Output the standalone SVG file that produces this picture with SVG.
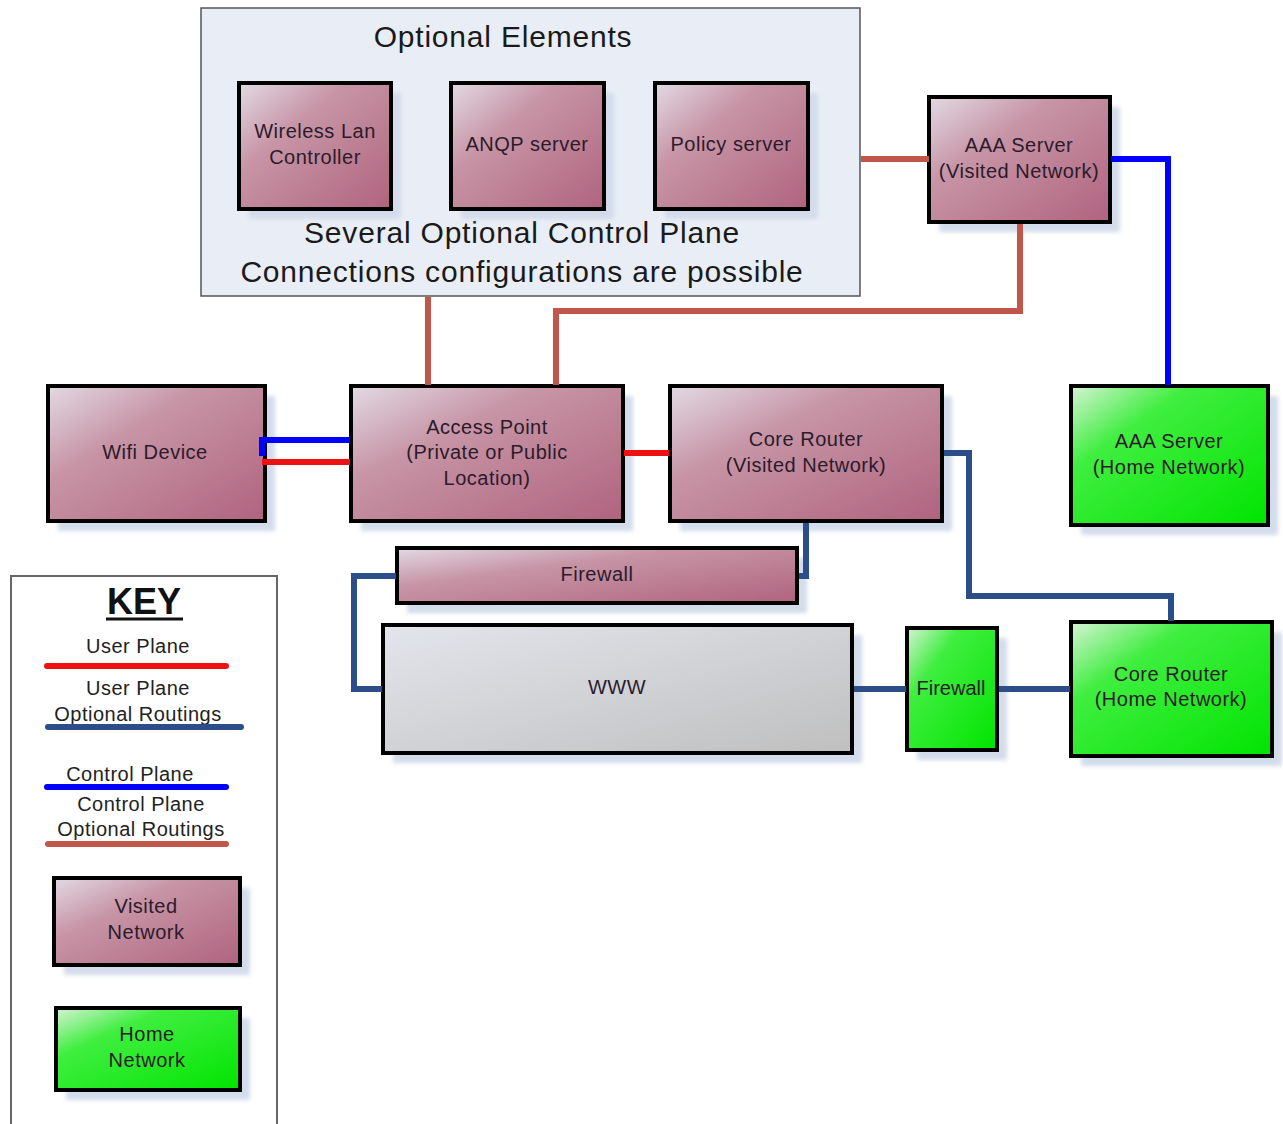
<svg xmlns="http://www.w3.org/2000/svg" width="1283" height="1124" viewBox="0 0 1283 1124">
<defs>
<linearGradient id="gV" x1="0" y1="0" x2="1" y2="1">
<stop offset="0" stop-color="#e2dae4"/><stop offset="0.35" stop-color="#c795a6"/><stop offset="1" stop-color="#b0637e"/>
</linearGradient>
<linearGradient id="gH" x1="0" y1="0" x2="1" y2="1">
<stop offset="0" stop-color="#d6f3d6"/><stop offset="0.3" stop-color="#40ee40"/><stop offset="1" stop-color="#00e400"/>
</linearGradient>
<linearGradient id="gW" x1="0" y1="0" x2="1" y2="1">
<stop offset="0" stop-color="#e2e5ec"/><stop offset="1" stop-color="#bfbfbf"/>
</linearGradient>
<filter id="blur" x="-10%" y="-10%" width="120%" height="120%"><feGaussianBlur stdDeviation="2"/></filter>
</defs>
<style>
.shadow{fill:#d3dcea;filter:url(#blur)}
.v{fill:url(#gV);stroke:#000;stroke-width:4}
.h{fill:url(#gH);stroke:#000;stroke-width:4}
.w{fill:url(#gW);stroke:#000;stroke-width:4}
text{font-family:"Liberation Sans",Arial,sans-serif;font-size:20px;letter-spacing:0.5px;fill:#2b1b2b;text-anchor:middle}
.big{font-size:30px;letter-spacing:0.8px;fill:#1a1a1a}
.key{font-size:20px;fill:#222}
.cpo{stroke:#c0574a;stroke-width:6;fill:none}
.cp{stroke:#0000ff;stroke-width:6;fill:none}
.up{stroke:#ee1111;stroke-width:6;fill:none}
.upo{stroke:#2c4e88;stroke-width:6;fill:none}
.lg{stroke-width:6;stroke-linecap:round;fill:none}
</style>
<rect width="1283" height="1124" fill="#ffffff"/>

<g id="optional-elements">
<rect x="201" y="8" width="659" height="288" fill="#e9eef6" stroke="#555" stroke-width="1.5"/>
<text class="big" x="503" y="47">Optional Elements</text>
<text class="big" x="522" y="243">Several Optional Control Plane</text>
<text class="big" x="522" y="282">Connections configurations are possible</text>
</g>

<g id="wlc">
<rect class="shadow" x="249" y="93" width="152" height="126"/>
<rect class="v" x="239" y="83" width="152" height="126"/>
<text x="315" y="138">Wireless Lan</text><text x="315" y="164">Controller</text>
</g>
<g id="anqp">
<rect class="shadow" x="461" y="93" width="153" height="126"/>
<rect class="v" x="451" y="83" width="153" height="126"/>
<text x="527" y="151">ANQP server</text>
</g>
<g id="policy">
<rect class="shadow" x="665" y="93" width="153" height="126"/>
<rect class="v" x="655" y="83" width="153" height="126"/>
<text x="731" y="151">Policy server</text>
</g>
<g id="aaa-visited">
<rect class="shadow" x="939" y="107" width="181" height="125"/>
<rect class="v" x="929" y="97" width="181" height="125"/>
<text x="1019" y="152">AAA Server</text><text x="1019" y="178">(Visited Network)</text>
</g>
<g id="wifi-device">
<rect class="shadow" x="58" y="396" width="217" height="135"/>
<rect class="v" x="48" y="386" width="217" height="135"/>
<text x="155" y="459">Wifi Device</text>
</g>
<g id="access-point">
<rect class="shadow" x="361" y="396" width="272" height="135"/>
<rect class="v" x="351" y="386" width="272" height="135"/>
<text x="487" y="434">Access Point</text><text x="487" y="459">(Private or Public</text><text x="487" y="485">Location)</text>
</g>
<g id="core-router-visited">
<rect class="shadow" x="680" y="396" width="272" height="135"/>
<rect class="v" x="670" y="386" width="272" height="135"/>
<text x="806" y="446">Core Router</text><text x="806" y="472">(Visited Network)</text>
</g>
<g id="aaa-home">
<rect class="shadow" x="1081" y="396" width="197" height="139"/>
<rect class="h" x="1071" y="386" width="197" height="139"/>
<text x="1169" y="448">AAA Server</text><text x="1169" y="474">(Home Network)</text>
</g>
<g id="firewall-visited">
<rect class="shadow" x="407" y="558" width="400" height="55"/>
<rect class="v" x="397" y="548" width="400" height="55"/>
<text x="597" y="581">Firewall</text>
</g>
<g id="www">
<rect class="shadow" x="393" y="635" width="469" height="128"/>
<rect class="w" x="383" y="625" width="469" height="128"/>
<text x="617" y="694">WWW</text>
</g>
<g id="firewall-home">
<rect class="shadow" x="917" y="638" width="90" height="122"/>
<rect class="h" x="907" y="628" width="90" height="122"/>
<text x="951" y="695" style="letter-spacing:0">Firewall</text>
</g>
<g id="core-router-home">
<rect class="shadow" x="1081" y="632" width="201" height="134"/>
<rect class="h" x="1071" y="622" width="201" height="134"/>
<text x="1171" y="681">Core Router</text><text x="1171" y="706">(Home Network)</text>
</g>

<g id="connectors">
<path class="cpo" d="M861,159 H929"/>
<path class="cpo" d="M1020,224 V311 H556 V385"/>
<path class="cpo" d="M428,297 V385"/>
<path class="cp" d="M1111,159 H1168 V385"/>
<path class="cp" d="M350,440 H262 V456"/>
<path class="up" d="M262,462 H350"/>
<path class="up" d="M624,453 H669"/>
<path class="upo" d="M806,523 V576 H799"/>
<path class="upo" d="M396,576 H354 V689 H382"/>
<path class="upo" d="M854,689 H906"/>
<path class="upo" d="M999,689 H1070"/>
<path class="upo" d="M944,453 H969 V596 H1171 V621"/>
</g>

<g id="key">
<rect x="11" y="576" width="266" height="560" fill="#ffffff" stroke="#666" stroke-width="2"/>
<text x="144" y="614" style="font-size:36px;font-weight:bold;fill:#111;letter-spacing:0">KEY</text>
<line x1="106" y1="619" x2="183" y2="619" stroke="#111" stroke-width="3"/>
<text class="key" x="138" y="653">User Plane</text>
<line class="lg" x1="47" y1="666" x2="226" y2="666" stroke="#ee1111"/>
<text class="key" x="138" y="695">User Plane</text>
<text class="key" x="138" y="721">Optional Routings</text>
<line class="lg" x1="48" y1="727" x2="241" y2="727" stroke="#2c4e88"/>
<text class="key" x="130" y="781">Control Plane</text>
<line class="lg" x1="47" y1="787" x2="226" y2="787" stroke="#0000ff"/>
<text class="key" x="141" y="811">Control Plane</text>
<text class="key" x="141" y="836">Optional Routings</text>
<line class="lg" x1="48" y1="844" x2="226" y2="844" stroke="#c0574a"/>
<g id="key-visited">
<rect class="shadow" x="64" y="888" width="186" height="87"/>
<rect class="v" x="54" y="878" width="186" height="87"/>
<text x="146" y="913">Visited</text><text x="146" y="939">Network</text>
</g>
<g id="key-home">
<rect class="shadow" x="66" y="1018" width="184" height="82"/>
<rect class="h" x="56" y="1008" width="184" height="82"/>
<text x="147" y="1041">Home</text><text x="147" y="1067">Network</text>
</g>
</g>
</svg>
